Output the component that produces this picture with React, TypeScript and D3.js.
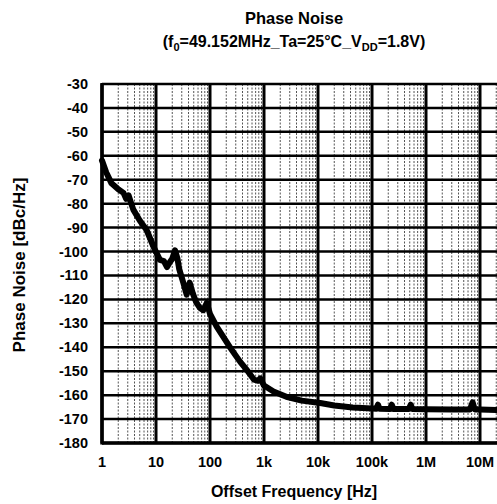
import React from 'react';
import * as d3 from 'd3';

const freqs = [1, 1.2, 1.5, 2, 2.5, 2.8, 3.1, 3.8, 5, 6.7, 9, 11.8, 14, 16, 18, 20, 22.5, 25, 27, 32, 37, 42, 48, 55, 65, 75, 87, 100, 133, 180, 235, 300, 360, 500, 650, 780, 850, 1000, 1500, 2600, 5000, 11000, 20000, 44000, 100000, 120000, 129000, 138000, 215000, 232000, 250000, 480000, 521000, 560000, 1e6, 3e6, 6.5e6, 7.3e6, 8e6, 1e7, 2e7];
const noise = [-62, -67, -71.5, -74, -75.5, -78, -76.5, -82.5, -87, -91, -98, -103.5, -104, -106.5, -104.5, -103, -99.5, -103, -107.5, -113, -118, -113, -117.5, -121, -123.6, -124.5, -121.5, -126, -131.4, -136, -140, -143.5, -146, -150, -153.5, -154, -153, -156, -158.5, -160.7, -162.3, -163.3, -164.3, -165.2, -165.6, -165.7, -164, -165.7, -165.8, -164, -165.8, -165.8, -164, -165.8, -165.9, -166, -166, -163, -166, -166, -166.2];

const xTickValues = [1, 10, 100, 1e3, 1e4, 1e5, 1e6, 1e7];
const xTickLabels = ['1', '10', '100', '1k', '10k', '100k', '1M', '10M'];
const yTickValues = [-30, -40, -50, -60, -70, -80, -90, -100, -110, -120, -130, -140, -150, -160, -170, -180];

const W = 497;
const H = 504;
const plot = { left: 102, top: 84, bottom: 443, decade: 54 };
const font = '"Liberation Sans", Arial, sans-serif';

export default function App() {
  const x = d3.scaleLog().domain([1, 1e8]).range([plot.left, plot.left + plot.decade * 8]);
  const y = d3.scaleLinear().domain([-180, -30]).range([plot.bottom, plot.top]);

  const minor: number[] = [];
  for (let d = 1; d < 1e8; d *= 10) for (let m = 2; m <= 9; m++) minor.push(d * m);

  const line = d3
    .line<number>()
    .x((_, i) => x(freqs[i]))
    .y(d => y(d));

  const x0 = x(1);
  const x1 = x(1e8);

  return (
    <svg width={W} height={H} style={{ position: 'absolute', left: 0, top: 0, background: '#fff' }} fontFamily={font} fontWeight="bold">
      <text x={294} y={24} textAnchor="middle" fontSize={16.5}>Phase Noise</text>
      <text x={294} y={47} textAnchor="middle" fontSize={16}>
        (f<tspan fontSize={11} dy={4}>0</tspan>
        <tspan dy={-4}>=49.152MHz_Ta=25°C_V</tspan>
        <tspan fontSize={11} dy={4}>DD</tspan>
        <tspan dy={-4}>=1.8V)</tspan>
      </text>

      <g>
        {minor.map(m => (
          <line key={m} x1={x(m)} x2={x(m)} y1={plot.top} y2={plot.bottom} stroke="#555" strokeWidth={1} strokeDasharray="2,1.5" />
        ))}
        {yTickValues.map(v => (
          <line key={v} x1={x0} x2={x1} y1={y(v)} y2={y(v)} stroke="#000" strokeWidth={2.5} />
        ))}
        {xTickValues.map(v => (
          <line key={v} x1={x(v)} x2={x(v)} y1={plot.top} y2={plot.bottom} stroke="#000" strokeWidth={3} />
        ))}
        <line x1={x0} x2={x1} y1={plot.bottom} y2={plot.bottom} stroke="#000" strokeWidth={3.5} />
        <line x1={x0} x2={x0} y1={plot.top - 1} y2={plot.bottom + 1.5} stroke="#000" strokeWidth={3.5} />
      </g>

      <path d={line(noise) ?? ''} fill="none" stroke="#000" strokeWidth={6} strokeLinejoin="round" strokeLinecap="round" />

      {yTickValues.map(v => (
        <text key={v} x={88} y={y(v) + 5} textAnchor="end" fontSize={14.5}>{v}</text>
      ))}
      {xTickValues.map((v, i) => (
        <text key={v} x={x(v)} y={467} textAnchor="middle" fontSize={14.5}>{xTickLabels[i]}</text>
      ))}

      <text x={294} y={497} textAnchor="middle" fontSize={16}>Offset Frequency [Hz]</text>
      <text transform="translate(25,265) rotate(-90)" textAnchor="middle" fontSize={17}>Phase Noise [dBc/Hz]</text>
    </svg>
  );
}
